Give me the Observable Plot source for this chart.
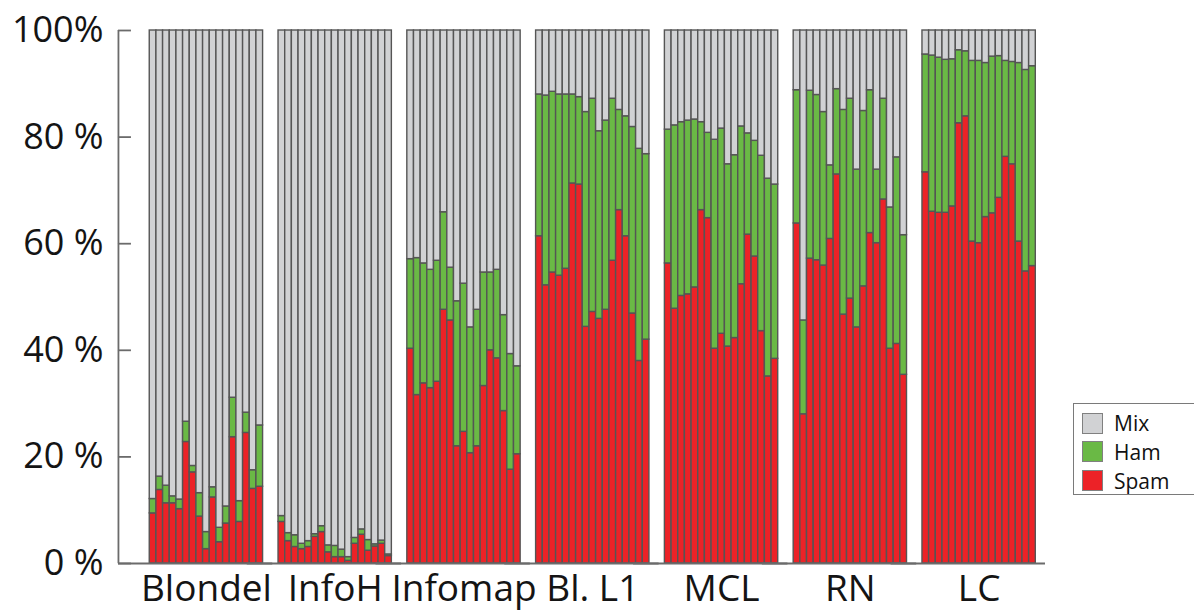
<!DOCTYPE html>
<html>
<head>
<meta charset="utf-8">
<script src="https://cdn.jsdelivr.net/npm/d3@7"></script>
<script src="https://cdn.jsdelivr.net/npm/@observablehq/plot@0.6"></script>
<style>
  html, body { margin: 0; padding: 0; background: #fff; }
  body { font-family: "Open Sans", "Noto Sans", sans-serif; }
  #wrap { position: relative; width: 1194px; height: 611px; overflow: hidden; }
  #legend { position: absolute; left: 1073px; top: 403px; width: 140px; height: 92px;
            border: 1px solid #7a7a7a; background: #fff; box-sizing: border-box; }
  .item { position: absolute; left: 8px; height: 22px; display: flex; align-items: center;
          font-size: 21px; color: #111; white-space: nowrap; }
  .item span { display: block; height: 22px; line-height: 22px; overflow: visible; }
  .sw { width: 21px; height: 21px; box-sizing: border-box; border: 1px solid #808080; margin-right: 11px; flex: none; }
</style>
</head>
<body>
<div id="wrap"><div id="chart"></div><div id="legend"></div></div>
<script>
// ---- data (percent of each bar) ----
const groups = ["Blondel", "InfoH", "Infomap", "Bl. L1", "MCL", "RN", "LC"];
const types = ["Spam", "Ham", "Mix"];           // stacking order, bottom to top
const legendOrder = ["Mix", "Ham", "Spam"];
const typeColors = ["#ec2227", "#6ab945", "#d1d2d4"];
const yTicks = [0, 20, 40, 60, 80, 100];

const blondelSpam = [9.4, 13.8, 11.3, 11.3, 10.2, 22.8, 17.1, 8.8, 2.7, 12.4, 4.0, 7.5, 23.7, 7.8, 24.5, 14.0, 14.4];
const blondelHam  = [2.7, 2.5, 3.3, 1.3, 1.8, 3.8, 1.2, 4.4, 3.2, 1.9, 2.7, 3.2, 7.4, 3.9, 3.8, 3.5, 11.5];

const infohSpam = [7.8, 4.2, 3.1, 2.7, 3.1, 5.0, 5.9, 2.1, 1.2, 1.2, 0.5, 3.7, 5.4, 2.4, 3.2, 3.7, 1.4];
const infohHam  = [1.1, 1.5, 2.2, 1.0, 1.1, 0.5, 1.1, 1.3, 2.1, 1.4, 0.7, 1.1, 1.0, 2.0, 0.4, 0.6, 0.3];

const infomapSpam = [40.3, 31.6, 33.8, 32.9, 34.1, 47.6, 45.6, 22.0, 24.7, 20.7, 22.0, 33.3, 40.0, 38.5, 28.6, 17.6, 20.5];
const infomapHam  = [16.8, 25.7, 22.5, 22.2, 22.7, 18.3, 9.9, 27.2, 27.8, 23.6, 25.6, 21.3, 14.6, 16.6, 18.0, 21.7, 16.5];

const bl1Spam = [61.4, 52.2, 54.6, 54.0, 55.3, 71.3, 71.1, 44.4, 47.2, 45.9, 47.6, 56.8, 66.3, 61.4, 46.9, 38.0, 42.0];
const bl1Ham  = [26.6, 35.6, 33.9, 34.0, 32.7, 16.7, 16.4, 40.3, 40.0, 35.2, 35.5, 30.4, 18.8, 22.5, 35.0, 39.8, 34.8];

const mclSpam = [56.3, 47.8, 50.2, 50.5, 51.8, 66.3, 64.8, 40.3, 43.1, 40.7, 42.3, 52.4, 61.7, 57.6, 43.6, 35.1, 38.4];
const mclHam  = [25.1, 34.4, 32.6, 32.6, 31.5, 16.5, 16.0, 39.2, 38.5, 34.2, 34.3, 29.6, 19.0, 21.7, 32.9, 37.1, 32.7];

const rnSpam = [63.8, 28.0, 57.2, 56.9, 55.9, 60.9, 73.0, 46.7, 49.7, 44.3, 52.0, 62.0, 60.1, 68.3, 40.3, 41.2, 35.4];
const rnHam  = [25.0, 17.6, 31.5, 31.0, 28.8, 13.8, 16.0, 38.4, 37.5, 29.6, 32.9, 26.8, 13.8, 18.9, 26.5, 35.0, 26.2];

const lcSpam = [73.4, 66.0, 65.8, 65.8, 67.0, 82.6, 83.9, 60.4, 60.1, 65.0, 65.7, 68.6, 76.3, 74.9, 60.4, 54.8, 55.8];
const lcHam  = [22.1, 29.3, 29.1, 28.7, 27.6, 13.7, 12.2, 33.9, 34.2, 28.9, 29.4, 26.6, 18.0, 19.2, 33.5, 37.8, 37.5];

const spamByGroup = [blondelSpam, infohSpam, infomapSpam, bl1Spam, mclSpam, rnSpam, lcSpam];
const hamByGroup  = [blondelHam, infohHam, infomapHam, bl1Ham, mclHam, rnHam, lcHam];

// ---- long table for Plot ----
const rows = [];
groups.forEach((g, gi) => {
  spamByGroup[gi].forEach((s, i) => {
    const h = hamByGroup[gi][i];
    rows.push({group: g, bar: i + 1, type: "Spam", value: s});
    rows.push({group: g, bar: i + 1, type: "Ham", value: h});
    rows.push({group: g, bar: i + 1, type: "Mix", value: 100 - s - h});
  });
});
const barIds = d3.range(1, blondelSpam.length + 1);

const axisColor = "#6b6b6b";
const axisShift = -31.3;   // y axis sits left of the first group
const chart = Plot.plot({
  width: 1194,
  height: 611,
  marginTop: 30,
  marginBottom: 48,
  marginLeft: 118,
  marginRight: 149,
  style: {fontFamily: '"Open Sans", "Noto Sans", sans-serif', color: "#141414", background: "transparent"},
  fx: {domain: groups, paddingInner: 0.12, paddingOuter: 0.159, align: 0.763, round: false, label: null},
  x: {type: "band", domain: barIds, padding: 0, round: false, axis: null},
  y: {domain: [0, 100], axis: null, label: null},
  color: {domain: types, range: typeColors},
  marks: [
    Plot.barY(rows, {fx: "group", x: "bar", y: "value", fill: "type", order: types,
                     stroke: "#555555", strokeWidth: 1.4}),
    // bottom axis line, joined across the gaps between groups
    Plot.ruleY([0], {stroke: axisColor, strokeWidth: 1.8, insetLeft: axisShift, insetRight: -9.7}),
    // vertical y-axis line, left of the first group
    Plot.ruleX([groups[0]], {fx: d => d, x: () => barIds[0], y1: 0, y2: 100,
                             dx: axisShift - 3.33, stroke: axisColor, strokeWidth: 1.8}),
    Plot.axisY(yTicks, {tickSize: -13, dx: axisShift, stroke: axisColor, strokeWidth: 1.8, fill: "none", label: null}),
    Plot.axisY(yTicks, {tickSize: 0, tickPadding: 15, dx: axisShift, fontSize: 36, fill: "#141414",
                        tickFormat: d => d === 100 ? "100%" : `${d} %`, label: null}),
    Plot.axisFx({anchor: "bottom", tickSize: 0, tickPadding: 11, fontSize: 37, fill: "#141414", label: null})
  ]
});
document.getElementById("chart").appendChild(chart);

// ---- legend ----
const legend = document.getElementById("legend");
legendOrder.forEach((t, k) => {
  const item = document.createElement("div");
  item.className = "item";
  item.style.top = (8 + k * 28.8) + "px";
  const sw = document.createElement("div");
  sw.className = "sw";
  sw.style.background = typeColors[types.indexOf(t)];
  const label = document.createElement("span");
  label.textContent = t;
  item.appendChild(sw);
  item.appendChild(label);
  legend.appendChild(item);
});
</script>
</body>
</html>
